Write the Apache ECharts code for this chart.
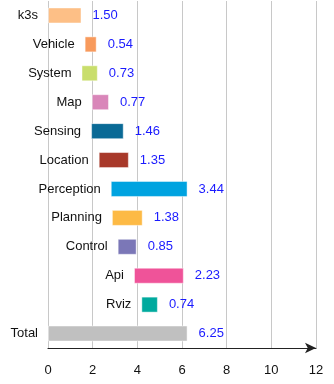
<!DOCTYPE html>
<html>
<head>
<meta charset="utf-8">
<script src="https://cdn.jsdelivr.net/npm/echarts@6/dist/echarts.min.js"></script>
<style>
  html, body { margin: 0; padding: 0; background: #fff; }
  #chart { width: 334px; height: 384px; }
</style>
</head>
<body>
<div id="chart"></div>
<script>
// stages, top to bottom
const stages = ['k3s', 'Vehicle', 'System', 'Map', 'Sensing', 'Location', 'Perception', 'Planning', 'Control', 'Api', 'Rviz', 'Total']
// start time of each stage
const starts = [0, 1.64, 1.5, 1.96, 1.93, 2.27, 2.81, 2.86, 3.12, 3.85, 4.18, 0]
// duration of each stage
const durations = [1.5, 0.54, 0.73, 0.77, 1.46, 1.35, 3.44, 1.38, 0.85, 2.23, 0.74, 6.25]
const colors = ['#fdbf86', '#f89a5c', '#c9de6c', '#d986b9', '#0a6a96', '#a8392a', '#00a3e0', '#fdba45', '#7b77b7', '#ef5399', '#00aa9e', '#c0c0c0']
const xTicks = [0, 12, 2]

const chart = echarts.init(document.getElementById('chart'))
const font = '"Liberation Sans", Arial, Helvetica, sans-serif'

chart.setOption({
  animation: false,
  grid: { left: 48, right: 18, top: 1, bottom: 36 },
  xAxis: {
    type: 'value',
    min: xTicks[0],
    max: xTicks[1],
    interval: xTicks[2],
    axisLine: {
      show: true,
      symbol: ['none', 'arrow'],
      symbolSize: [8, 11],
      lineStyle: { color: '#222', width: 1.2 }
    },
    axisTick: { show: false },
    axisLabel: { color: '#111', fontSize: 13, fontFamily: font, margin: 16 },
    splitLine: { show: true, lineStyle: { color: '#c8c8c8', width: 1 } }
  },
  yAxis: {
    type: 'category',
    inverse: true,
    data: stages,
    axisLine: { show: false },
    axisTick: { show: false },
    axisLabel: { show: false },
    splitLine: { show: false }
  },
  series: [
    {
      type: 'bar',
      stack: 'gantt',
      data: starts,
      barWidth: 16,
      itemStyle: { color: 'transparent' },
      label: {
        show: true,
        position: 'insideRight',
        distance: 10,
        formatter: (p) => p.name,
        color: '#111',
        fontSize: 13,
        fontFamily: font
      },
      silent: true
    },
    {
      type: 'bar',
      stack: 'gantt',
      barWidth: 16,
      data: durations.map((v, i) => ({
        value: v,
        itemStyle: { color: colors[i], borderColor: 'rgba(255,255,255,0.45)', borderWidth: 1 }
      })),
      label: {
        show: true,
        position: 'right',
        distance: 11,
        formatter: (p) => p.value.toFixed(2),
        color: '#1a1aff',
        fontSize: 13,
        fontFamily: font
      }
    }
  ]
})
</script>
</body>
</html>
